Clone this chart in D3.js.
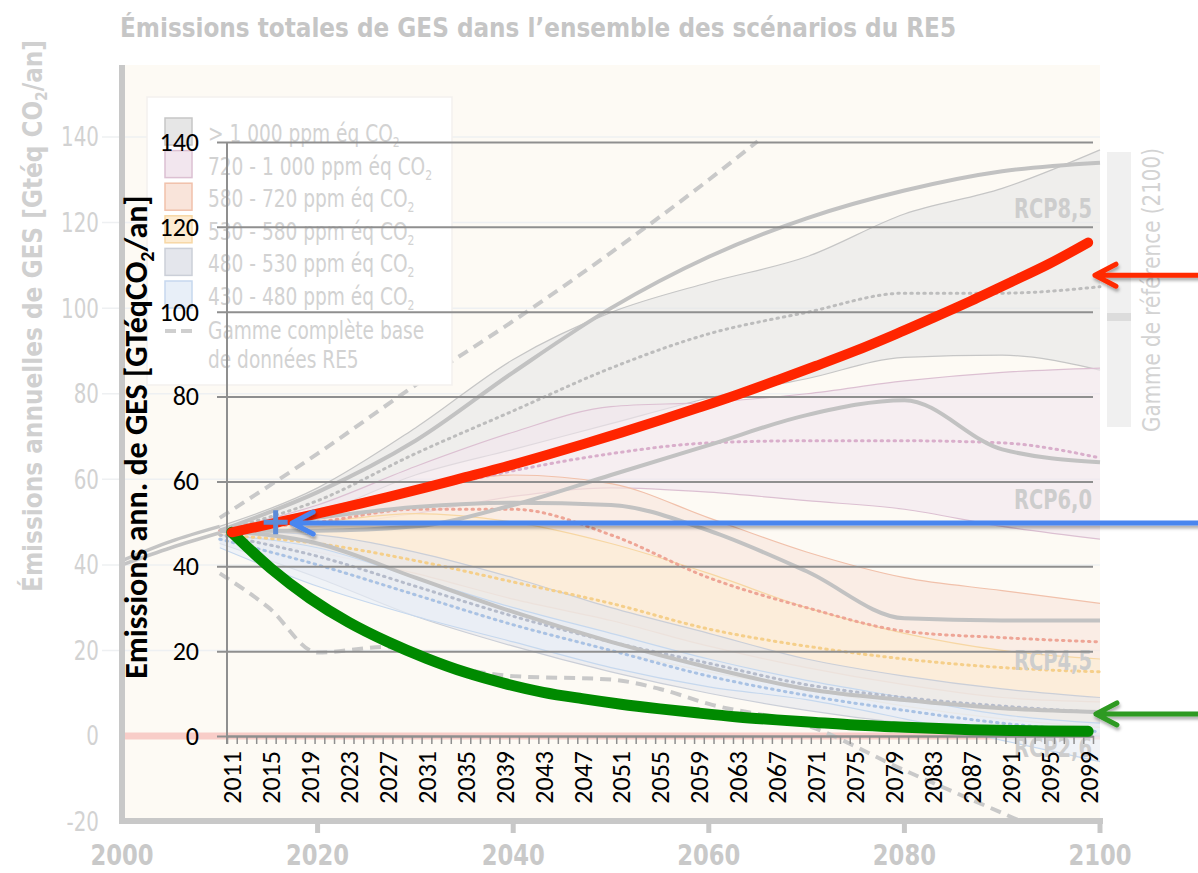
<!DOCTYPE html>
<html>
<head>
<meta charset="utf-8">
<script src="https://cdn.jsdelivr.net/npm/d3@7"></script>
<style>
  body { margin: 0; background: #fff; }
  svg { display: block; }
</style>
</head>
<body>
<svg width="1198" height="873"></svg>
<script>
// ---- background chart (faded IPCC figure) ----
var bgYears = [2010, 2020, 2030, 2040, 2050, 2060, 2070, 2080, 2090, 2100];
var b1000Lo = [47, 52, 61, 67, 73, 79, 83.5, 88.5, 89, 85.5];
var b1000Hi = [49, 58, 72, 88, 99, 106, 112, 122, 128, 137];
var b1000Med = [48, 55, 66, 76, 86, 94, 99, 103.5, 103.5, 105];
var b720Lo = [47, 49, 52, 56, 58, 57, 55, 53, 49, 46];
var b720Hi = [48, 54, 63, 71, 77, 78, 80, 83, 85, 86];
var b720Med = [48, 52, 57, 62, 66, 68.5, 69, 69, 68.5, 65];
var b580Lo = [47, 43, 38, 32, 27, 21, 16, 12, 9, 8];
var b580Hi = [48, 53, 58, 61, 59, 51, 43, 37, 34, 31];
var b580Med = [48, 50, 53, 53, 47, 37, 30, 24.5, 23, 22];
var b530Lo = [46, 40, 33, 26, 20, 15, 11, 7, 4, 2];
var b530Hi = [48, 50, 52, 50, 45, 38, 30, 24, 20, 18];
var b530Med = [47, 45, 41, 36, 31, 25, 21, 18, 16, 15];
var b480Lo = [45, 37, 28, 21, 15, 10, 6, 3, 1, 0];
var b480Hi = [48, 47, 43, 37, 30, 24, 18, 14, 11, 9];
var b480Med = [47, 42, 35, 28, 22, 17, 12, 9, 7, 5.5];
var b430Lo = [44, 35, 28, 22, 16, 11.5, 8.5, 4, -1, -6];
var b430Hi = [47, 44, 37, 30, 24, 18, 13, 9, 5, 3];
var b430Med = [46, 40, 33, 26, 20, 14, 9.5, 6, 3, 1];

var rcp85 = [48, 57, 69, 85, 100, 112, 121, 127.5, 132, 134];
var rcp60 = [48, 48, 49, 54, 61, 68, 75, 78.5, 67, 64];
var rcp45 = [48, 51, 53.5, 54.5, 54, 48, 38.5, 27.5, 27, 27];
var rcp26 = [48, 45, 37, 29, 22, 16, 11, 8.4, 6.5, 5.6];
var rcpNames = ["RCP8,5", "RCP6,0", "RCP4,5", "RCP2,6"];
var rcpLabelVals = [121, 53, 15.5, -5];

var histYears = [2000, 2005, 2010];
var histLo = [40, 44, 47.5];
var histHi = [41, 45.5, 49];

var dashHiYears = [2010, 2020, 2030, 2040, 2050, 2060, 2065];
var dashHi = [51, 66, 82, 97, 113, 130, 139];
var dashLoYears = [2010, 2015, 2020, 2027, 2030, 2040, 2050, 2055, 2060, 2070, 2080, 2090, 2092];
var dashLo = [38, 30, 19.5, 20.8, 18.5, 14, 13.2, 11, 7.5, 2.5, -8, -18, -20];

var legendLabels = ["> 1 000 ppm éq CO", "720 - 1 000 ppm éq CO", "580 - 720 ppm éq CO",
                    "530 - 580 ppm éq CO", "480 - 530 ppm éq CO", "430 - 480 ppm éq CO"];
var bgYTicks = [-20, 0, 20, 40, 60, 80, 100, 120, 140];
var bgXTicks = [2000, 2020, 2040, 2060, 2080, 2100];

// ---- overlay chart ----
var labelYears = [2011, 2015, 2019, 2023, 2027, 2031, 2035, 2039, 2043, 2047, 2051, 2055,
                  2059, 2063, 2067, 2071, 2075, 2079, 2083, 2087, 2091, 2095, 2099];
var redVals = [48, 50, 52, 54.1, 56.3, 58.6, 61, 63.4, 66, 68.7, 71.5, 74.4,
               77.4, 80.5, 83.8, 87.2, 90.7, 94.5, 98.5, 102.6, 106.9, 111.3, 116.3];
var greenVals = [48, 39.5, 32.5, 26.8, 22.2, 18.3, 15, 12.4, 10.3, 8.8, 7.5, 6.4,
                 5.4, 4.5, 3.8, 3.2, 2.6, 2.2, 1.8, 1.5, 1.3, 1.2, 1.1];
var yTicks = [0, 20, 40, 60, 80, 100, 120, 140];
var markerPoint = [2015.5, 50.4];

var svg = d3.select("svg");
var defs = svg.append("defs");
var shadow = defs.append("filter").attr("id", "shadow").attr("x", "-20%").attr("y", "-50%")
    .attr("width", "140%").attr("height", "300%");
shadow.append("feDropShadow").attr("dx", 1).attr("dy", 3).attr("stdDeviation", 1.5)
    .attr("flood-color", "#000").attr("flood-opacity", 0.3);

var bx = d3.scaleLinear().domain([2000, 2100]).range([122, 1100]);
var by = d3.scaleLinear().domain([-20, 140]).range([821.6, 137]);
var ox = d3.scaleLinear().domain([2010.5, 2099.5]).range([227, 1093]);
var oy = d3.scaleLinear().domain([0, 140]).range([736, 142]);

var narrow = "'Liberation Sans Narrow', 'DejaVu Sans Condensed', 'Open Sans', sans-serif";
var calib = "Carlito, Calibri, Lato, sans-serif";

// squeeze a text horizontally to mimic the condensed font of the original figure
function condense(sel, k) {
    sel.each(function () {
        var w = this.getComputedTextLength();
        d3.select(this).attr("textLength", w * k).attr("lengthAdjust", "spacingAndGlyphs");
    });
}

var bg = svg.append("g").attr("class", "background");

bg.append("rect").attr("x", 122).attr("y", 65).attr("width", 978).attr("height", 756)
    .attr("fill", "#fdfaf4");

bg.selectAll("line.bggrid").data(bgYTicks.filter(function (d) { return d !== 0 && d !== -20; }))
    .enter().append("line").attr("class", "bggrid")
    .attr("x1", 102).attr("x2", 1100)
    .attr("y1", function (d) { return by(d); }).attr("y2", function (d) { return by(d); })
    .attr("stroke", "#eef0f2").attr("stroke-width", 1.5);

bg.append("line").attr("x1", 122).attr("x2", 1100).attr("y1", by(0)).attr("y2", by(0))
    .attr("stroke", "#f8cdc8").attr("stroke-width", 7);

var bands = [
    {lo: b1000Lo, hi: b1000Hi, med: b1000Med, fill: "#e6e6e6", stroke: "#c6c6c6", dot: "#bdbdbd"},
    {lo: b720Lo, hi: b720Hi, med: b720Med, fill: "#f2e6ee", stroke: "#dcc0d2", dot: "#d9aecb"},
    {lo: b580Lo, hi: b580Hi, med: b580Med, fill: "#f9e4da", stroke: "#f1c1ab", dot: "#eea596"},
    {lo: b530Lo, hi: b530Hi, med: b530Med, fill: "#fdecd2", stroke: "#f7d7a4", dot: "#f5cf8a"},
    {lo: b480Lo, hi: b480Hi, med: b480Med, fill: "#e4e6ec", stroke: "#cbcfd8", dot: "#b6bccb"},
    {lo: b430Lo, hi: b430Hi, med: b430Med, fill: "#e8eff8", stroke: "#c6d8ee", dot: "#a9c2e4"}
];

var area = d3.area().curve(d3.curveMonotoneX)
    .x(function (d) { return bx(d.year); })
    .y0(function (d) { return by(d.lo); })
    .y1(function (d) { return by(d.hi); });
var bline = d3.line().curve(d3.curveMonotoneX)
    .x(function (d) { return bx(d[0]); })
    .y(function (d) { return by(d[1]); });

function pairs(years, vals) {
    return years.map(function (y, i) { return [y, vals[i]]; });
}

bands.forEach(function (b) {
    var rows = bgYears.map(function (y, i) { return {year: y, lo: b.lo[i], hi: b.hi[i]}; });
    bg.append("path").datum(rows).attr("d", area)
        .attr("fill", b.fill).attr("fill-opacity", 0.6);
    bg.append("path").datum(pairs(bgYears, b.lo)).attr("d", bline)
        .attr("fill", "none").attr("stroke", b.stroke).attr("stroke-width", 1.2);
    bg.append("path").datum(pairs(bgYears, b.hi)).attr("d", bline)
        .attr("fill", "none").attr("stroke", b.stroke).attr("stroke-width", 1.2);
});
bands.forEach(function (b) {
    bg.append("path").datum(pairs(bgYears, b.med)).attr("d", bline)
        .attr("fill", "none").attr("stroke", b.dot).attr("stroke-width", 3)
        .attr("stroke-dasharray", "1.5,5").attr("stroke-linecap", "round");
});

[rcp85, rcp60, rcp45, rcp26].forEach(function (r) {
    bg.append("path").datum(pairs(bgYears, r)).attr("d", bline)
        .attr("fill", "none").attr("stroke", "#c2c2c2").attr("stroke-width", 4);
});
[histLo, histHi].forEach(function (h) {
    bg.append("path").datum(pairs(histYears, h)).attr("d", bline)
        .attr("fill", "none").attr("stroke", "#c4c4c4").attr("stroke-width", 3.5);
});

bg.append("path").datum(pairs(dashHiYears, dashHi)).attr("d", bline)
    .attr("fill", "none").attr("stroke", "#c9c9c9").attr("stroke-width", 4).attr("stroke-dasharray", "11,7");
bg.append("path").datum(pairs(dashLoYears, dashLo)).attr("d", bline)
    .attr("fill", "none").attr("stroke", "#c9c9c9").attr("stroke-width", 4).attr("stroke-dasharray", "11,7");

// legend
var lg = bg.append("g");
lg.append("rect").attr("x", 147).attr("y", 97).attr("width", 305).attr("height", 288)
    .attr("fill", "#fff").attr("stroke", "#f3f1ee").attr("stroke-width", 1.5);
legendLabels.forEach(function (t, i) {
    var b = bands[i];
    lg.append("rect").attr("x", 165).attr("y", 118 + i * 32.6).attr("width", 27).attr("height", 27)
        .attr("fill", b.fill).attr("stroke", b.stroke).attr("stroke-width", 1.5);
    var tx = lg.append("text").attr("x", 208).attr("y", 142 + i * 32.6)
        .attr("font-family", narrow).attr("font-size", 24).attr("fill", "#d2d2d2");
    tx.append("tspan").text(t);
    tx.append("tspan").attr("font-size", 14).attr("dy", 5).text("2");
    condense(tx, 0.86);
});
lg.append("line").attr("x1", 165).attr("x2", 193).attr("y1", 331).attr("y2", 331)
    .attr("stroke", "#cfcfcf").attr("stroke-width", 4).attr("stroke-dasharray", "11,5");
lg.append("text").attr("x", 208).attr("y", 339).attr("font-family", narrow).attr("font-size", 24)
    .attr("fill", "#d2d2d2").text("Gamme complète base").call(condense, 0.86);
lg.append("text").attr("x", 208).attr("y", 368).attr("font-family", narrow).attr("font-size", 24)
    .attr("fill", "#d2d2d2").text("de données RE5").call(condense, 0.86);

// background axes
bg.append("line").attr("x1", 122).attr("x2", 122).attr("y1", 65).attr("y2", 824)
    .attr("stroke", "#c8c8c8").attr("stroke-width", 6);
bg.append("line").attr("x1", 119).attr("x2", 1103).attr("y1", 821).attr("y2", 821)
    .attr("stroke", "#c8c8c8").attr("stroke-width", 6);
bg.selectAll("line.bgtick").data(bgXTicks.slice(1)).enter().append("line").attr("class", "bgtick")
    .attr("x1", function (d) { return bx(d); }).attr("x2", function (d) { return bx(d); })
    .attr("y1", 821).attr("y2", 833).attr("stroke", "#c8c8c8").attr("stroke-width", 5);
bg.selectAll("text.bgx").data(bgXTicks).enter().append("text").attr("class", "bgx")
    .attr("x", function (d) { return bx(d); }).attr("y", 865).attr("text-anchor", "middle")
    .attr("font-family", narrow).attr("font-weight", "bold").attr("font-size", 28)
    .attr("fill", "#c9c9c9").text(function (d) { return d; })
    .call(condense, 0.9);
bg.selectAll("text.bgy").data(bgYTicks).enter().append("text").attr("class", "bgy")
    .attr("x", 99).attr("y", function (d) { return by(d); }).attr("dy", "0.36em")
    .attr("text-anchor", "end").attr("font-family", narrow).attr("font-size", 26)
    .attr("fill", "#d2d2d2").text(function (d) { return d; })
    .call(condense, 0.85);

bg.append("text").attr("x", 120).attr("y", 37).attr("font-family", narrow)
    .attr("font-weight", "bold").attr("font-size", 26).attr("fill", "#c6c6c6")
    .attr("textLength", 836).attr("lengthAdjust", "spacingAndGlyphs")
    .text("Émissions totales de GES dans l’ensemble des scénarios du RE5");

var ylab = bg.append("text").attr("transform", "translate(42,316) rotate(-90)")
    .attr("text-anchor", "middle").attr("font-family", narrow).attr("font-weight", "bold")
    .attr("font-size", 26).attr("fill", "#d0d0d0")
    .attr("textLength", 552).attr("lengthAdjust", "spacingAndGlyphs");
ylab.append("tspan").text("Émissions annuelles de GES [Gtéq CO");
ylab.append("tspan").attr("font-size", 15).attr("dy", 5).text("2");
ylab.append("tspan").attr("dy", -5).text("/an]");

rcpNames.forEach(function (n, i) {
    bg.append("text").attr("x", 1092).attr("y", by(rcpLabelVals[i])).attr("text-anchor", "end")
        .attr("font-family", narrow).attr("font-weight", "bold").attr("font-size", 26)
        .attr("fill", "#cdcdcd").attr("textLength", 78).attr("lengthAdjust", "spacingAndGlyphs")
        .text(n);
});

bg.append("rect").attr("x", 1107).attr("y", 152).attr("width", 24).attr("height", 275).attr("fill", "#f0f0f0");
bg.append("rect").attr("x", 1107).attr("y", 313).attr("width", 24).attr("height", 8).attr("fill", "#dcdcdc");
bg.append("text").attr("transform", "translate(1160,290) rotate(-90)").attr("text-anchor", "middle")
    .attr("font-family", narrow).attr("font-size", 25).attr("fill", "#d3d3d3")
    .attr("textLength", 284).attr("lengthAdjust", "spacingAndGlyphs")
    .text("Gamme de référence (2100)");

// ---- overlay chart ----
var fg = svg.append("g").attr("class", "overlay");

var yAxis = fg.append("g").attr("transform", "translate(227,0)")
    .call(d3.axisLeft(oy).tickValues(yTicks).tickSizeInner(-866).tickSizeOuter(0).tickPadding(28));
yAxis.select(".domain").remove();
yAxis.selectAll("line").attr("x1", -10).attr("stroke", "#8f8f8f").attr("stroke-width", 2);
yAxis.selectAll("text").attr("font-family", calib).attr("font-size", 26).attr("fill", "#000");

fg.append("line").attr("x1", 227).attr("x2", 227).attr("y1", 142).attr("y2", 744)
    .attr("stroke", "#8f8f8f").attr("stroke-width", 2);

var xTickG = fg.append("g").attr("transform", "translate(0,736)")
    .call(d3.axisBottom(ox).tickValues(d3.range(2010.5, 2100, 1)).tickFormat("").tickSizeInner(8).tickSizeOuter(0));
xTickG.select(".domain").attr("stroke", "#8f8f8f").attr("stroke-width", 2);
xTickG.selectAll("line").attr("stroke", "#8f8f8f").attr("stroke-width", 1.5);

fg.selectAll("text.xl").data(labelYears).enter().append("text").attr("class", "xl")
    .attr("transform", function (d) { return "translate(" + ox(d) + ",751) rotate(-90)"; })
    .attr("dy", "0.36em").attr("text-anchor", "end")
    .attr("font-family", calib).attr("font-size", 26).attr("fill", "#000")
    .text(function (d) { return d; });

var otitle = fg.append("text").attr("transform", "translate(147,437) rotate(-90)")
    .attr("text-anchor", "middle").attr("font-family", calib).attr("font-weight", "bold")
    .attr("font-size", 32).attr("fill", "#000");
otitle.append("tspan").text("Emissions ann. de GES [GTéqCO");
otitle.append("tspan").attr("font-size", 20).attr("dy", 7).text("2");
otitle.append("tspan").attr("dy", -7).text("/an]");

var oline = d3.line().curve(d3.curveMonotoneX)
    .x(function (d) { return ox(d[0]); })
    .y(function (d) { return oy(d[1]); });

fg.append("path").datum(pairs(labelYears, greenVals)).attr("d", oline)
    .attr("fill", "none").attr("stroke", "#008a00").attr("stroke-width", 11).attr("stroke-linecap", "round");
fg.append("path").datum(pairs(labelYears, redVals)).attr("d", oline)
    .attr("fill", "none").attr("stroke", "#ff2500").attr("stroke-width", 10).attr("stroke-linecap", "round");

// arrows
var arrows = [
    {tip: 2017.2, val: 50.2, color: "#4a86ef"},
    {tip: 2099.7, val: 108.6, color: "#ff2a00"},
    {tip: 2099.8, val: 5.2, color: "#2e9a22"}
];
arrows.forEach(function (a) {
    var x = ox(a.tip), y = oy(a.val);
    var g = fg.append("g").attr("filter", "url(#shadow)");
    var p = d3.path();
    p.moveTo(1200, y); p.lineTo(x, y);
    p.moveTo(x + 21, y - 11); p.lineTo(x, y); p.lineTo(x + 21, y + 11);
    g.append("path").attr("d", p.toString()).attr("fill", "none").attr("stroke", a.color)
        .attr("stroke-width", 5).attr("stroke-linecap", "round").attr("stroke-linejoin", "round");
});

var mx = ox(markerPoint[0]), my = oy(markerPoint[1]);
fg.append("path").attr("d", "M" + (mx - 12) + "," + my + "H" + (mx + 12) + "M" + mx + "," + (my - 12) + "V" + (my + 12))
    .attr("stroke", "#5b8bd8").attr("stroke-width", 5).attr("fill", "none");
</script>
</body>
</html>
